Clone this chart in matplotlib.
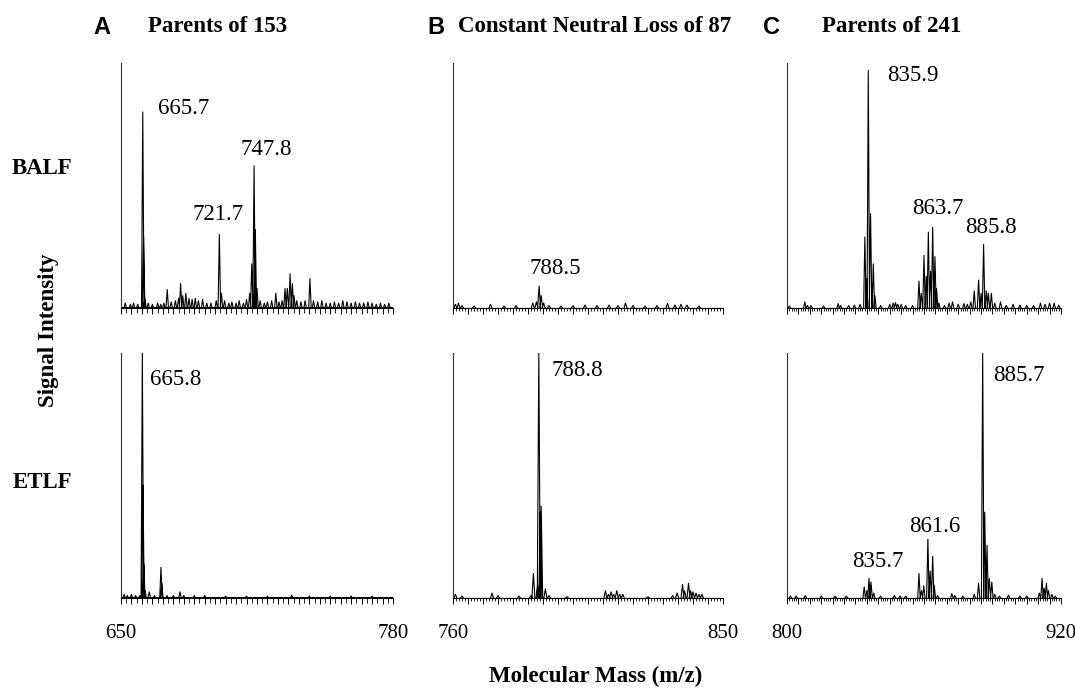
import numpy as np
import matplotlib
matplotlib.use("Agg")
import matplotlib.pyplot as plt
from matplotlib.ticker import MultipleLocator, FuncFormatter

# ========================================
# Data: peak centres (m/z) and heights (% of axis height)
# ========================================
A_BALF_MZ = [652.0, 654.5, 656.0, 658.0, 660.4, 660.8, 661.4, 663.0, 665.0, 667.5,
             669.0, 670.5, 672.1, 674.0, 676.0, 677.5, 678.5, 679.5, 681.0, 682.5,
             684.0, 685.5, 687.0, 689.0, 691.0, 693.0, 695.5, 697.0, 698.0, 699.5,
             701.5, 703.0, 705.0, 706.5, 708.5, 710.0, 711.5, 712.5, 713.6, 714.2,
             715.0, 716.5, 718.5, 720.0, 722.0, 724.0, 725.5, 727.0, 728.4, 729.5,
             730.8, 731.9, 732.7, 734.0, 736.0, 738.0, 740.3, 742.0, 744.0, 746.0,
             748.0, 750.0, 752.0, 754.0, 756.0, 758.0, 760.0, 762.0, 764.0, 766.0,
             768.0, 770.0, 772.0, 774.0, 776.0, 778.0]
A_BALF_INT = [2, 1.5, 2, 1.5, 80, 29, 4, 2, 1.5, 2,
              1.5, 2, 7.5, 2.5, 3, 4, 10, 5, 6, 4,
              3.5, 4, 3, 3.5, 2, 2, 3, 30, 6, 3,
              2, 2.5, 2, 3, 2, 3.5, 6, 18, 58, 32,
              8, 3, 2, 2.5, 3, 6, 2.5, 3, 8, 8,
              14, 10, 5, 3, 2.5, 3, 12, 3, 2.5, 3,
              2, 2, 2.5, 2, 3, 2.5, 2, 2.5, 2, 2,
              2.5, 2, 1.5, 2, 1.5, 2]

A_ETLF_MZ = [651.5, 653.0, 655.0, 657.0, 659.0, 660.2, 660.5, 660.9, 661.5, 663.5,
             666.0, 669.1, 669.5, 672.0, 675.0, 678.2, 680.0, 685.0, 690.0, 700.0,
             710.0, 720.0, 731.6, 740.0, 750.0, 760.0, 770.0]
A_ETLF_INT = [1.5, 1, 1.5, 1, 1, 100, 46, 14, 3, 2.5,
              1, 12.5, 6, 1, 1, 2.5, 1, 1, 1, 0.8,
              0.8, 0.8, 1.2, 0.8, 0.8, 0.8, 0.8]

B_BALF_MZ = [760.8, 761.8, 763.0, 767.0, 772.5, 777.0, 781.0, 786.6, 787.8, 788.7,
             789.4, 790.2, 792.0, 796.0, 800.0, 804.0, 808.0, 812.0, 815.0, 817.5,
             820.0, 824.0, 828.0, 831.5, 834.0, 836.0, 838.0, 842.0]
B_BALF_INT = [1.5, 2, 1, 0.8, 1.5, 0.8, 1, 2, 2.5, 9,
              5, 2, 1, 0.8, 1, 1.2, 1, 1.2, 1, 2,
              1, 0.8, 1, 1.8, 1.2, 1.5, 1.2, 0.8]

B_ETLF_MZ = [760.8, 763.0, 773.0, 775.0, 782.0, 786.0, 786.8, 788.2, 788.6, 789.1,
             789.4, 790.8, 792.0, 798.0, 810.8, 811.8, 812.7, 813.6, 814.6, 815.6,
             816.6, 825.0, 833.2, 834.7, 836.5, 837.2, 838.5, 839.2, 840.0, 841.0,
             842.0, 843.0]
B_ETLF_INT = [1.5, 0.8, 2, 1, 0.8, 1, 10, 5, 100, 35,
              37.5, 3.7, 1, 0.5, 3, 1.5, 2.5, 1.5, 3, 1.5,
              1.5, 0.5, 1, 2, 5.5, 3, 6, 3, 2.5, 2,
              1.5, 1.5]

C_BALF_MZ = [801.0, 807.8, 809.0, 810.5, 816.0, 822.4, 823.5, 827.0, 829.5, 832.0,
             834.1, 834.9, 835.6, 836.6, 837.8, 838.5, 841.0, 845.0, 846.5, 847.5,
             848.5, 850.0, 852.0, 855.0, 857.8, 858.8, 860.0, 861.0, 861.9, 862.9,
             863.8, 864.8, 865.5, 866.5, 869.0, 871.0, 872.5, 875.0, 877.5, 879.0,
             880.5, 882.0, 883.9, 885.0, 886.1, 887.3, 888.2, 889.5, 891.0, 893.5,
             896.0, 899.0, 902.0, 905.0, 908.0, 911.0, 913.0, 915.0, 917.0, 919.0]
C_BALF_INT = [0.8, 2.5, 1, 1, 0.8, 1.8, 1, 1, 1.2, 1.5,
              29, 12, 97, 38.5, 18, 5, 1, 1.5, 2, 2.2,
              1.5, 1.5, 1, 1, 11, 6, 21.5, 13, 31, 15,
              33, 21, 8, 2, 1, 2, 2.5, 1.5, 1.8, 1.5,
              2.5, 7, 11.4, 6, 26, 7, 6, 6, 2, 2.5,
              1, 1.5, 1.2, 1, 1, 2, 1.5, 2, 2, 1.2]

C_ETLF_MZ = [801.5, 804.0, 808.0, 815.0, 821.0, 826.0, 833.8, 835.0, 835.9, 836.8,
             838.0, 841.0, 847.0, 849.5, 852.0, 857.8, 858.9, 859.9, 861.7, 862.7,
             863.8, 864.5, 866.0, 872.2, 873.5, 877.0, 882.0, 883.9, 885.7, 886.6,
             887.6, 888.6, 889.7, 891.0, 893.0, 897.0, 902.0, 905.0, 910.5, 911.7,
             912.6, 913.6, 914.5, 916.0, 917.5]
C_ETLF_INT = [0.8, 0.8, 1, 0.8, 0.8, 0.8, 4.5, 3, 8, 6.5,
              2, 0.8, 1, 0.8, 0.8, 10, 3, 5, 24, 11,
              17, 5, 1, 1.8, 1, 0.8, 1.5, 6, 100, 35,
              21.5, 8, 6.5, 1.5, 0.8, 1.2, 0.8, 0.8, 2, 8,
              4, 6, 3, 1.5, 0.8]

X_RANGES = {"A": (650, 780), "B": (760, 850), "C": (800, 920)}
ROWS = ["BALF", "ETLF"]
TITLES = {"A": "Parents of 153", "B": "Constant Neutral Loss of 87", "C": "Parents of 241"}

SPECTRA = {
    ("A", "BALF"): (A_BALF_MZ, A_BALF_INT, ["665.7", "721.7", "747.8"]),
    ("A", "ETLF"): (A_ETLF_MZ, A_ETLF_INT, ["665.8"]),
    ("B", "BALF"): (B_BALF_MZ, B_BALF_INT, ["788.5"]),
    ("B", "ETLF"): (B_ETLF_MZ, B_ETLF_INT, ["788.8"]),
    ("C", "BALF"): (C_BALF_MZ, C_BALF_INT, ["835.9", "863.7", "885.8"]),
    ("C", "ETLF"): (C_ETLF_MZ, C_ETLF_INT, ["835.7", "861.6", "885.7"]),
}

# ========================================
# Layout (pixels in a 1075x689 canvas)
# ========================================
W, H = 1075, 689
COL_PX = {"A": (121, 393), "B": (453, 723), "C": (787, 1061)}
ROW_PX = {"BALF": (63, 308), "ETLF": (353, 598)}
HALF_WIDTH = {"A": 0.6, "B": 0.5, "C": 0.55}
# label positions in data coords (m/z, % height), same order as label texts
LABEL_POS = {
    ("A", "BALF"): [(680.0, 81.6), (696.4, 38.0), (719.2, 64.5)],
    ("A", "ETLF"): [(676.0, 89.0)],
    ("B", "BALF"): [(794.1, 16.3)],
    ("B", "ETLF"): [(801.4, 93.0)],
    ("C", "BALF"): [(855.2, 95.0), (866.2, 40.8), (889.4, 33.0)],
    ("C", "ETLF"): [(839.8, 14.7), (864.8, 29.0), (901.4, 91.0)],
}

SERIF = "Liberation Serif"
SANS = "Liberation Sans"
FS = 16.5


def fx(x):
    return x / W


def fy(y):
    return 1 - y / H


def peak_trace(mz, inten, w):
    xs, ys = [], []
    for m, h in zip(mz, inten):
        xs += [m - w, m, m + w, np.nan]
        ys += [0, h, 0, np.nan]
    return xs, ys


fig = plt.figure(figsize=(W / 100, H / 100), dpi=100)

for col, (x0, x1) in COL_PX.items():
    lo, hi = X_RANGES[col]
    for row in ROWS:
        y0, y1 = ROW_PX[row]
        ax = fig.add_axes([fx(x0), fy(y1), fx(x1 - x0), (y1 - y0) / H])
        mz, inten, labels = SPECTRA[(col, row)]
        xs, ys = peak_trace(mz, inten, HALF_WIDTH[col])
        base_lw = 1.4 if col == "A" else 0.8
        ax.plot([lo, hi], [0, 0], color="black", lw=base_lw, solid_capstyle="butt")
        ax.plot(xs, ys, color="black", lw=0.8)
        ax.set_xlim(lo, hi)
        ax.set_ylim(0, 100)
        for s in ("top", "right"):
            ax.spines[s].set_visible(False)
        ax.spines["left"].set_color("#333333")
        ax.spines["left"].set_linewidth(0.8)
        ax.spines["bottom"].set_linewidth(0.8)
        ax.set_yticks([])
        ax.xaxis.set_major_locator(MultipleLocator(5))
        ax.xaxis.set_minor_locator(MultipleLocator(2.5 if col == "A" else 1))
        ax.tick_params(axis="x", which="major", direction="out", length=4, width=0.7)
        ax.tick_params(axis="x", which="minor", direction="out", length=2.5 if col != "A" else 3.5, width=0.6)
        if row == "ETLF":
            ax.xaxis.set_major_formatter(
                FuncFormatter(lambda v, p, lo=lo, hi=hi: f"{v:g}" if abs(v - lo) < 1e-6 or abs(v - hi) < 1e-6 else ""))
            ax.tick_params(axis="x", which="major", pad=15, labelsize=15)
            for lab in ax.get_xticklabels():
                lab.set_fontfamily(SERIF)
        else:
            ax.set_xticklabels([])
        ax.patch.set_alpha(0)
        for txt, (tx, ty) in zip(labels, LABEL_POS[(col, row)]):
            ax.text(tx, ty, txt, ha="center", va="center", fontsize=FS, family=SERIF)

# panel letters and titles
LETTER_PX = {"A": 102, "B": 436, "C": 771}
TITLE_PX = {"A": 148, "B": 458, "C": 822}
for col in ("A", "B", "C"):
    fig.text(fx(LETTER_PX[col]), fy(27), col, ha="center", va="center",
             fontsize=17, fontweight="bold", family=SANS)
    fig.text(fx(TITLE_PX[col]), fy(27), TITLES[col], ha="left", va="center",
             fontsize=FS, fontweight="bold", family=SERIF)

fig.text(fx(42), fy(168), "BALF", ha="center", va="center", fontsize=FS, fontweight="bold", family=SERIF)
fig.text(fx(42), fy(483), "ETLF", ha="center", va="center", fontsize=FS, fontweight="bold", family=SERIF)
fig.text(fx(49), fy(330), "Signal Intensity", ha="center", va="center", rotation=90,
         fontsize=FS, fontweight="bold", family=SERIF)
fig.text(fx(596), fy(676), "Molecular Mass (m/z)", ha="center", va="center",
         fontsize=FS, fontweight="bold", family=SERIF)

fig.savefig("out.png", dpi=100)
